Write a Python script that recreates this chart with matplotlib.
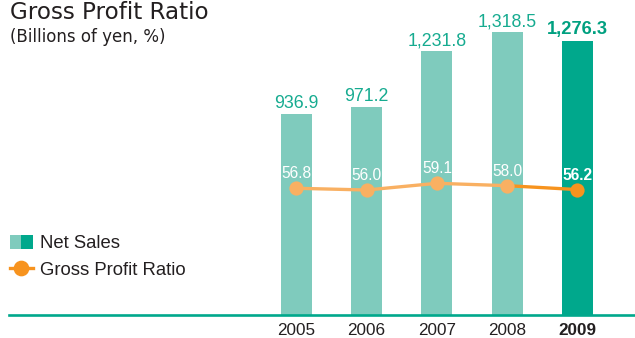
import matplotlib.pyplot as plt
from matplotlib.patches import Patch
from matplotlib.lines import Line2D
from matplotlib.legend_handler import HandlerTuple

# --- data ---
years = ["2005", "2006", "2007", "2008", "2009"]
net_sales = [936.9, 971.2, 1231.8, 1318.5, 1276.3]
gross_ratio = [56.8, 56.0, 59.1, 58.0, 56.2]

# --- colours ---
TEAL_LIGHT = "#7fcbbd"
TEAL_DARK = "#00a88c"
TEAL_TEXT = "#16ab90"
ORANGE_LIGHT = "#f9b062"
ORANGE_DARK = "#f7931e"
TEXT_GREY = "#231f20"

SANS = ["Liberation Sans", "DejaVu Sans"]

fig = plt.figure(figsize=(6.35, 3.38), dpi=100)
ax = fig.add_axes([9 / 635, 23 / 338, 626 / 635, 295 / 338])
ax2 = ax.twinx()

x = list(range(len(years)))
bar_colors = [TEAL_LIGHT] * (len(years) - 1) + [TEAL_DARK]
ax.bar(x, net_sales, width=0.44, color=bar_colors, zorder=2)

ax.set_xlim(-4.09, 4.82)
ax.set_ylim(0, 1375)
ax2.set_ylim(-1.87, 134.7)

# bar value labels
for i, v in enumerate(net_sales):
    last = i == len(years) - 1
    ax.annotate(f"{v:,.1f}", (i, v), xytext=(0, 5 if last else 4),
                textcoords="offset points", ha="center", va="baseline",
                fontsize=13.2 if last else 12.8,
                color="#00a080" if last else TEAL_TEXT,
                fontweight="bold" if last else "normal", family=SANS)

# ratio line: older years light, last segment darker
ax2.plot(x[:-1], gross_ratio[:-1], color=ORANGE_LIGHT, lw=2.4, zorder=3)
ax2.plot(x[-2:], gross_ratio[-2:], color=ORANGE_DARK, lw=2.4, zorder=3)
ax2.scatter(x[:-1], gross_ratio[:-1], s=105, color=ORANGE_LIGHT, zorder=4,
            linewidths=0)
ax2.scatter(x[-1:], gross_ratio[-1:], s=105, color=ORANGE_DARK, zorder=4,
            linewidths=0)
for i, r in enumerate(gross_ratio):
    last = i == len(years) - 1
    ax2.annotate(f"{r:.1f}", (i, r), xytext=(0, 7.2), textcoords="offset points",
                 ha="center", va="baseline", fontsize=11.2, color="white",
                 fontweight="bold" if last else "normal", family=SANS,
                 zorder=5)

# axes styling
for a in (ax, ax2):
    for side in ("top", "right", "left"):
        a.spines[side].set_visible(False)
    a.set_yticks([])
ax2.spines["bottom"].set_visible(False)
ax.spines["bottom"].set_color(TEAL_DARK)
ax.spines["bottom"].set_linewidth(1.9)
ax.spines["bottom"].set_zorder(3)

ax.set_xticks(x)
ax.set_xticklabels(years, fontsize=12.3, color=TEXT_GREY, family=SANS)
ax.get_xticklabels()[-1].set_fontweight("bold")
ax.tick_params(axis="x", length=0, pad=6)

# titles
fig.text(10 / 635, 1 - 1 / 338, "Gross Profit Ratio", fontsize=16.6,
         color=TEXT_GREY, ha="left", va="top", family="DejaVu Sans")
fig.text(10 / 635, 1 - 28 / 338, "(Billions of yen, %)", fontsize=12,
         color=TEXT_GREY, ha="left", va="top", family="DejaVu Sans")

# legend
handles = [
    (Patch(color=TEAL_LIGHT, lw=0), Patch(color=TEAL_DARK, lw=0)),
    Line2D([], [], color=ORANGE_DARK, lw=2.4, marker="o", markersize=10.3),
]
fig.legend(handles, ["Net Sales", "Gross Profit Ratio"],
           handler_map={tuple: HandlerTuple(ndivide=None, pad=0)},
           loc="upper left", bbox_to_anchor=(4 / 635, 1 - 229 / 338),
           frameon=False, prop={"family": SANS, "size": 13.3},
           labelcolor=TEXT_GREY, handlelength=1.25, handleheight=0.85,
           handletextpad=0.4, labelspacing=0.5, borderaxespad=0,
           borderpad=0.3)

fig.savefig("out.png", dpi=100)
